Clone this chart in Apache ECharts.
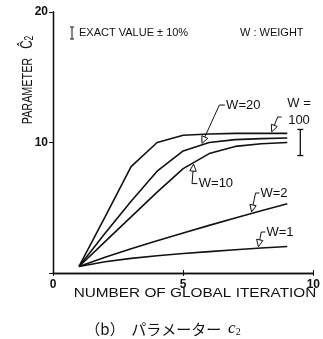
<!DOCTYPE html>
<html>
<head>
<meta charset="utf-8">
<script src="https://cdn.jsdelivr.net/npm/echarts@6/dist/echarts.min.js"></script>
<style>
html,body{margin:0;padding:0;background:#fff;}
#chart{width:323px;height:339px;}
</style>
</head>
<body>
<div id="chart"></div>
<script>
// ---- data ----
const iterations = [1, 2, 3, 4, 5, 6, 7, 8, 9];
const w100 = [0.5, 4.3, 8.15, 10.0, 10.55, 10.65, 10.7, 10.7, 10.7];
const w20  = [0.5, 3.05, 5.5, 7.8, 9.35, 10.0, 10.22, 10.3, 10.35];
const w10  = [0.5, 2.4, 4.3, 6.2, 8.0, 9.15, 9.7, 9.9, 10.0];
const w2   = [0.5, 1.2, 1.85, 2.47, 3.07, 3.65, 4.22, 4.77, 5.3];
const w1   = [0.5, 0.86, 1.12, 1.32, 1.49, 1.64, 1.78, 1.91, 2.03];
const errorBar = [[9.5, 9, 11]]; // exact value 10 ± 10%
const xTicks = [0, 5, 10];
const yTicks = [0, 10, 20];
const seriesNames = ['W=100', 'W=20', 'W=10', 'W=2', 'W=1'];

const INK = '#111';
const pairs = arr => iterations.map((x, i) => [x, arr[i]]);
const allSeries = [w100, w20, w10, w2, w1];

const chart = echarts.init(document.getElementById('chart'), null, {renderer: 'canvas'});

const lineSeries = allSeries.map((arr, i) => ({
  name: seriesNames[i],
  type: 'line',
  data: pairs(arr),
  showSymbol: false,
  symbol: 'none',
  smooth: false,
  lineStyle: {color: INK, width: 1.6},
  z: 3
}));

const errSeries = {
  type: 'custom',
  data: errorBar,
  renderItem: function (params, api) {
    const x = api.value(0), lo = api.value(1), hi = api.value(2);
    const a = api.coord([x, lo]), b = api.coord([x, hi]);
    const s = {stroke: INK, lineWidth: 1.3};
    return {type: 'group', children: [
      {type: 'line', shape: {x1: a[0], y1: a[1], x2: b[0], y2: b[1]}, style: s},
      {type: 'line', shape: {x1: a[0] - 3, y1: a[1], x2: a[0] + 3, y2: a[1]}, style: s},
      {type: 'line', shape: {x1: b[0] - 3, y1: b[1], x2: b[0] + 3, y2: b[1]}, style: s}
    ]};
  },
  z: 3
};

const axisLine = {show: true, lineStyle: {color: INK, width: 1.3}};
const tickLabel = {color: INK, fontSize: 12, fontWeight: 'bold', fontFamily: 'Liberation Sans'};

chart.setOption({
  animation: false,
  backgroundColor: '#fff',
  grid: {left: 53, right: 4, top: 12, bottom: 66},
  xAxis: [
    {type: 'value', min: xTicks[0], max: xTicks[xTicks.length - 1], interval: xTicks[1] - xTicks[0],
     axisLine: axisLine, splitLine: {show: false},
     axisTick: {show: true, inside: true, length: 3, lineStyle: {color: INK}},
     axisLabel: Object.assign({margin: 6}, tickLabel)},
    {type: 'value', position: 'top', min: xTicks[0], max: xTicks[xTicks.length - 1], interval: xTicks[1] - xTicks[0],
     axisLine: axisLine, splitLine: {show: false},
     axisTick: {show: true, inside: true, length: 3, lineStyle: {color: INK}},
     axisLabel: {show: false}}
  ],
  yAxis: [
    {type: 'value', min: yTicks[0], max: yTicks[yTicks.length - 1], interval: yTicks[1] - yTicks[0],
     axisLine: axisLine, splitLine: {show: false},
     axisTick: {show: true, inside: false, length: 4, lineStyle: {color: INK}},
     axisLabel: Object.assign({margin: 5, showMinLabel: false}, tickLabel)},
    {type: 'value', position: 'right', min: yTicks[0], max: yTicks[yTicks.length - 1], interval: yTicks[1] - yTicks[0],
     axisLine: axisLine, splitLine: {show: false},
     axisTick: {show: true, inside: true, length: 4, lineStyle: {color: INK}},
     axisLabel: {show: false}}
  ],
  series: lineSeries.concat([errSeries])
});

// ---- annotations (positions given in data coordinates, converted by the chart) ----
function P(x, y) { return chart.convertToPixel({gridIndex: 0}, [x, y]); }
function valueAt(arr, x) {
  for (let i = 0; i < iterations.length - 1; i++) {
    if (x >= iterations[i] && x <= iterations[i + 1]) {
      const t = (x - iterations[i]) / (iterations[i + 1] - iterations[i]);
      return arr[i] + t * (arr[i + 1] - arr[i]);
    }
  }
  return arr[arr.length - 1];
}
const labelFont = {fontSize: 13, fontFamily: 'Liberation Sans', fill: INK};
const annotations = [
  {arr: w100, tipX: 8.4, lead: [8.63, 11.95], hook: 8.78, texts: [['W =', 9.45, 13.0, 'center'], ['100', 9.45, 11.7, 'center']]},
  {arr: w20, tipX: 5.72, lead: [6.39, 12.87], hook: 6.6, texts: [['W=20', 6.65, 12.87, 'left']]},
  {arr: w10, tipX: 5.4, lead: [5.34, 6.85], hook: 5.55, texts: [['W=10', 5.6, 6.85, 'left']]},
  {arr: w2, tipX: 7.63, lead: [7.78, 6.13], hook: 7.93, texts: [['W=2', 7.97, 6.13, 'left']]},
  {arr: w1, tipX: 7.89, lead: [8.0, 3.14], hook: 8.16, texts: [['W=1', 8.2, 3.14, 'left']]}
];
const g = [];
annotations.forEach(a => {
  const tip = P(a.tipX, valueAt(a.arr, a.tipX));
  const up = a.lead[1] > valueAt(a.arr, a.tipX);
  tip[1] += up ? -1.5 : 1.5;
  const top = P(a.lead[0], a.lead[1]);
  const hk = P(a.hook, a.lead[1]);
  const dx = top[0] - tip[0], dy = top[1] - tip[1];
  const L = Math.hypot(dx, dy), ux = dx / L, uy = dy / L;
  const bx = tip[0] + ux * 7, by = tip[1] + uy * 7;
  g.push({type: 'polyline', shape: {points: [[bx, by], top, hk]}, style: {stroke: INK, lineWidth: 1, fill: null}, z: 10});
  g.push({type: 'polygon', shape: {points: [tip, [bx - uy * 3.2, by + ux * 3.2], [bx + uy * 3.2, by - ux * 3.2]]},
          style: {stroke: INK, lineWidth: 1, fill: '#fff'}, z: 10});
  a.texts.forEach(t => {
    const p = P(t[1], t[2]);
    g.push({type: 'text', x: p[0], y: p[1], style: Object.assign({text: t[0], align: t[3], verticalAlign: 'middle'}, labelFont), z: 10});
  });
});

// legend-like notes inside the frame
g.push({type: 'group', x: 72, y: 33, children: [
  {type: 'line', shape: {x1: 0, y1: -6, x2: 0, y2: 6}, style: {stroke: INK, lineWidth: 1}},
  {type: 'line', shape: {x1: -2, y1: -6, x2: 2, y2: -6}, style: {stroke: INK, lineWidth: 1}},
  {type: 'line', shape: {x1: -2, y1: 6, x2: 2, y2: 6}, style: {stroke: INK, lineWidth: 1}}
]});
g.push({type: 'text', x: 79, y: 33, style: {text: 'EXACT VALUE ± 10%', fontSize: 11, fontFamily: 'Liberation Sans', fill: INK, verticalAlign: 'middle'}});
g.push({type: 'text', x: 240, y: 33, style: {text: 'W : WEIGHT', fontSize: 11, fontFamily: 'Liberation Sans', fill: INK, verticalAlign: 'middle'}});

// axis titles
g.push({type: 'text', x: 28, y: 80, rotation: Math.PI / 2, scaleX: 0.72,
  style: {text: 'PARAMETER   {c|Ĉ}{s|2}', align: 'center', verticalAlign: 'middle', fontSize: 15, fontFamily: 'Liberation Sans', fill: INK,
    rich: {c: {fontSize: 16, fontFamily: 'Liberation Sans', fill: INK}, s: {fontSize: 12, fontFamily: 'Liberation Sans', fill: INK, padding: [4, 0, 0, 0]}}}});
g.push({type: 'text', x: 195, y: 293, scaleX: 1.18,
  style: {text: 'NUMBER OF GLOBAL ITERATION', align: 'center', verticalAlign: 'middle', fontSize: 13, fontFamily: 'Liberation Sans', fill: INK}});
g.push({type: 'text', x: 163, y: 329,
  style: {text: '（b）  パラメーター  {c|c}{s|2}', align: 'center', verticalAlign: 'middle', fontSize: 15, fontFamily: 'Noto Sans CJK JP', fill: INK,
    rich: {c: {fontSize: 17, fontStyle: 'italic', fontFamily: 'Liberation Serif', fill: INK}, s: {fontSize: 10, fontFamily: 'Liberation Serif', fill: INK, padding: [7, 0, 0, 0]}}}});

chart.setOption({graphic: g});
</script>
</body>
</html>
